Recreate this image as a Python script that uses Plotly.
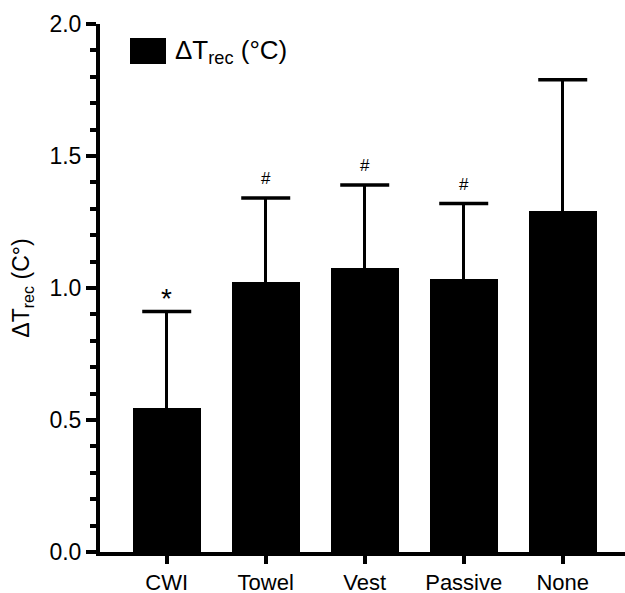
import plotly.graph_objects as go

categories = ["CWI", "Towel", "Vest", "Passive", "None"]
means = [0.545, 1.023, 1.075, 1.034, 1.293]
errors = [0.366, 0.318, 0.315, 0.286, 0.496]
marks = ["*", "#", "#", "#", ""]
y_ticks = [0.0, 0.5, 1.0, 1.5, 2.0]
y_tick_labels = ["0.0", "0.5", "1.0", "1.5", "2.0"]
legend_label = "ΔT<sub>rec</sub> (°C)"
y_title = "ΔT<sub>rec</sub> (C°)"

FONT = "Arial, Liberation Sans, sans-serif"
xs = list(range(len(categories)))
tops = [m + e for m, e in zip(means, errors)]

fig = go.Figure()
fig.add_trace(go.Bar(
    x=xs,
    y=means,
    width=0.684,
    marker=dict(color="black", line=dict(width=0)),
    error_y=dict(type="data", array=errors, arrayminus=[0] * len(errors),
                 symmetric=False, color="black", thickness=3.5, width=0),
    showlegend=False,
))
# error-bar caps
fig.add_trace(go.Scatter(
    x=xs, y=tops, mode="markers",
    marker=dict(symbol="line-ew", size=35, color="black",
                line=dict(width=3.5, color="black")),
    showlegend=False, hoverinfo="skip",
))

for i, (top, t) in enumerate(zip(tops, marks)):
    if not t:
        continue
    if t == "*":
        fig.add_annotation(x=i, y=top, text=t, showarrow=False,
                           font=dict(family=FONT, size=28, color="black"),
                           yanchor="bottom", yshift=-4)
    else:
        fig.add_annotation(x=i, y=top, text=t, showarrow=False,
                           font=dict(family=FONT, size=17, color="black"),
                           yanchor="bottom", yshift=8)

# legend (box + text)
fig.add_shape(type="rect", xref="paper", yref="paper",
              x0=30 / 525, x1=66 / 525, y0=(552 - 64) / 528, y1=(552 - 38) / 528,
              fillcolor="black", line=dict(width=0))
fig.add_annotation(xref="paper", yref="paper", x=73 / 525, y=(552 - 51) / 528,
                   xanchor="left", yanchor="middle", text=legend_label,
                   showarrow=False, font=dict(family=FONT, size=26, color="black"))

fig.update_layout(
    width=625, height=593,
    margin=dict(l=100, r=0, t=24, b=41),
    paper_bgcolor="white", plot_bgcolor="white",
    font=dict(family=FONT, color="black"),
    bargap=0,
)
fig.update_xaxes(
    range=[-0.674, 4.629], automargin=False,
    tickmode="array", tickvals=xs, ticktext=categories,
    ticks="outside", ticklen=8, tickwidth=3.5, tickcolor="black",
    showline=True, linewidth=4, linecolor="black",
    showgrid=False, zeroline=False,
    tickfont=dict(family=FONT, size=22, color="black"),
)
fig.update_yaxes(
    range=[0, 2.0], automargin=False,
    tickmode="array", tickvals=y_ticks, ticktext=y_tick_labels,
    ticks="outside", ticklen=10, tickwidth=3.5, tickcolor="black",
    minor=dict(dtick=0.1, ticks="outside", ticklen=6, tickwidth=3.5,
               tickcolor="black", showgrid=False),
    showline=True, linewidth=4, linecolor="black",
    showgrid=False, zeroline=False,
    tickfont=dict(family=FONT, size=23, color="black"),
    title=dict(text=y_title, font=dict(family=FONT, size=23, color="black"), standoff=14),
)

fig.write_html("out.html")
